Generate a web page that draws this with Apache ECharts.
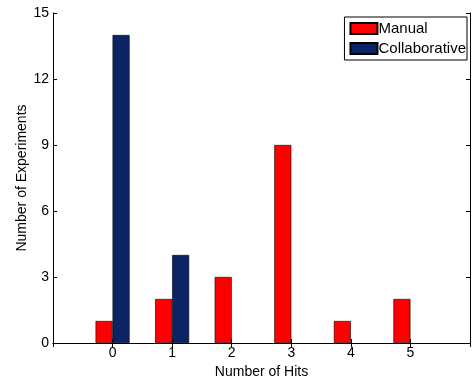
<!DOCTYPE html>
<html>
<head>
<meta charset="utf-8">
<script src="https://cdn.jsdelivr.net/npm/echarts@6/dist/echarts.min.js"></script>
<style>
    html, body { margin: 0; padding: 0; background: #fff; }
    #chart { width: 472px; height: 381px; }
</style>
</head>
<body>
<div id="chart"></div>
<script>
// x runs from -1 to 6, only 0..5 get labels
const hits = ['-1', '0', '1', '2', '3', '4', '5', '6']
const manual = [null, 1, 2, 3, 9, 1, 2, null]
const collaborative = [null, 14, 4, 0, 0, 0, 0, null]

const font = 'Liberation Sans, Arial, Helvetica, sans-serif'
const labelShown = (v) => (v === '-1' || v === '6') ? '' : v

// zero-height bars draw nothing, like matlab
const toBars = (arr) => arr.map(v => {
    if (v === 0) {
        return { value: 0, itemStyle: { borderWidth: 0, opacity: 0 } }
    }
    return v
})

const chart = echarts.init(document.getElementById('chart'))
chart.setOption({
    animation: false,
    textStyle: { fontFamily: font },
    grid: { left: 53, right: 2, top: 13, bottom: 38, outerBoundsMode: 'none' },
    legend: {
        orient: 'vertical',
        right: 5,
        top: 17,
        icon: 'rect',
        itemWidth: 27,
        itemHeight: 11,
        itemGap: 5,
        padding: [4, 1, 4, 5],
        borderColor: '#000',
        borderWidth: 1,
        backgroundColor: '#fff',
        textStyle: { fontFamily: font, fontSize: 15, color: '#000', padding: [0, 0, 0, -4] },
        data: ['Manual', 'Collaborative']
    },
    xAxis: [
        {
            type: 'category',
            data: hits,
            boundaryGap: false,
            name: 'Number of Hits',
            nameLocation: 'middle',
            nameGap: 20,
            nameTextStyle: { fontSize: 14, color: '#000' },
            axisLine: { lineStyle: { color: '#000', width: 1 } },
            axisTick: { inside: true, length: 4, lineStyle: { color: '#000' } },
            axisLabel: { formatter: labelShown, fontSize: 14, color: '#000', margin: 3 },
            splitLine: { show: false }
        },
        {
            type: 'category',
            data: hits,
            boundaryGap: false,
            position: 'top',
            axisLine: { lineStyle: { color: '#000', width: 1 } },
            axisTick: { inside: true, length: 4, lineStyle: { color: '#000' } },
            axisLabel: { show: false },
            splitLine: { show: false }
        }
    ],
    yAxis: [
        {
            type: 'value',
            min: 0,
            max: 15,
            interval: 3,
            name: 'Number of Experiments',
            nameLocation: 'middle',
            nameGap: 24,
            nameMoveOverlap: false,
            nameTextStyle: { fontSize: 14, color: '#000' },
            axisLine: { show: true, lineStyle: { color: '#000', width: 1 } },
            axisTick: { show: true, inside: true, length: 4, lineStyle: { color: '#000' } },
            axisLabel: { fontSize: 14, color: '#000', margin: 4 },
            splitLine: { show: false }
        },
        {
            type: 'value',
            min: 0,
            max: 15,
            interval: 3,
            position: 'right',
            axisLine: { show: true, lineStyle: { color: '#000', width: 1 } },
            axisTick: { show: true, inside: true, length: 4, lineStyle: { color: '#000' } },
            axisLabel: { show: false },
            splitLine: { show: false }
        }
    ],
    series: [
        {
            name: 'Manual',
            type: 'bar',
            data: toBars(manual),
            barWidth: 17,
            barGap: '0%',
            itemStyle: { color: '#ff0000', borderColor: '#000', borderWidth: 0.6 }
        },
        {
            name: 'Collaborative',
            type: 'bar',
            data: toBars(collaborative),
            barWidth: 17,
            barGap: '0%',
            itemStyle: { color: '#0a2466', borderColor: '#000', borderWidth: 0.6 }
        }
    ]
})
</script>
</body>
</html>
